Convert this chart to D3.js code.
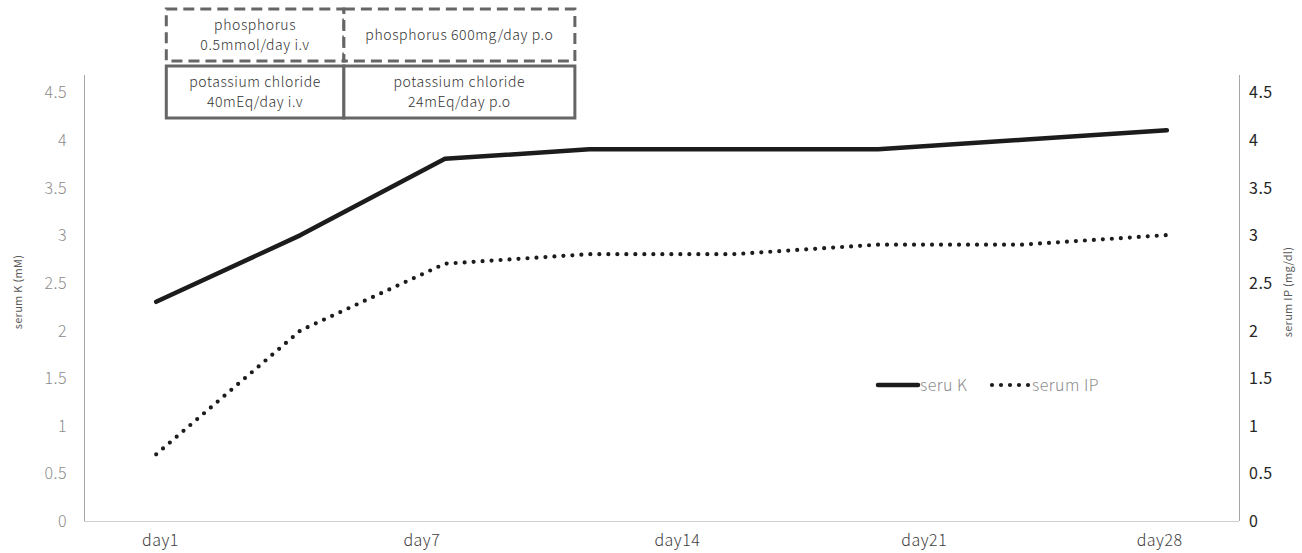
<!DOCTYPE html>
<html>
<head>
<meta charset="utf-8">
<script src="https://cdn.jsdelivr.net/npm/d3@7"></script>
<style>
  html, body { margin: 0; padding: 0; background: #fff; }
  svg { display: block; }
  text { font-family: "Noto Sans CJK JP", "Noto Sans", sans-serif; }
</style>
</head>
<body>
<svg id="chart" width="1302" height="553"></svg>
<script>
// Sampling points (eight measurements over the 28-day course)
const samples = ["s1", "s2", "s3", "s4", "s5", "s6", "s7", "s8"];
// Serum potassium (mM)
const serumK = [2.3, 3.0, 3.8, 3.9, 3.9, 3.9, 4.0, 4.1];
// Serum inorganic phosphorus (mg/dl)
const serumIP = [0.7, 2.0, 2.7, 2.8, 2.8, 2.9, 2.9, 3.0];
// Day labels along the bottom and where they sit on the sample axis
const dayLabels = ["day1", "day7", "day14", "day21", "day28"];
const dayLabelAt = [0.03, 1.84, 3.61, 5.32, 6.95];
// Value axis ticks (shared by both axes)
const yTicks = [0, 0.5, 1, 1.5, 2, 2.5, 3, 3.5, 4, 4.5];
// Treatment periods (start/end on the sample axis)
const phosphorusRx = [
  { lines: ["phosphorus", "0.5mmol/day i.v"], from: 0.07, to: 1.3 },
  { lines: ["phosphorus 600mg/day p.o"], from: 1.3, to: 2.9 }
];
const potassiumRx = [
  { lines: ["potassium chloride", "40mEq/day i.v"], from: 0.07, to: 1.3 },
  { lines: ["potassium chloride", "24mEq/day p.o"], from: 1.3, to: 2.9 }
];

const svg = d3.select("#chart");
const plotL = 84, plotR = 1239, plotT = 75, plotB = 521;

const x = d3.scalePoint().domain(samples).range([plotL, plotR]).padding(0.5);
const xi = d3.scaleLinear().domain([0, samples.length - 1])
  .range([x(samples[0]), x(samples[samples.length - 1])]);
const y = d3.scaleLinear().domain([0, 4.5]).range([plotB, plotB - 4.5 * 95.3]);

// Axis lines
svg.append("line").attr("x1", plotL + 0.5).attr("x2", plotL + 0.5)
  .attr("y1", plotT).attr("y2", plotB).attr("stroke", "#a6a6a6").attr("stroke-width", 1);
svg.append("line").attr("x1", plotR + 0.5).attr("x2", plotR + 0.5)
  .attr("y1", plotT).attr("y2", plotB).attr("stroke", "#a6a6a6").attr("stroke-width", 1);
svg.append("line").attr("x1", plotL).attr("x2", plotR)
  .attr("y1", plotB + 0.5).attr("y2", plotB + 0.5).attr("stroke", "#d0d0d0").attr("stroke-width", 1.2);

// Left tick labels
const yl = d3.axisLeft(y).tickValues(yTicks).tickSize(0).tickPadding(0).tickFormat(d3.format("~g"));
svg.append("g").attr("transform", `translate(${plotL - 17},0)`).call(yl)
  .call(g => g.select(".domain").remove())
  .call(g => g.selectAll("text").attr("fill", "#8c8c8c").attr("font-size", 16)
    .attr("font-weight", 300).attr("letter-spacing", 0.5).attr("dy", "0.35em"));

// Right tick labels
const yr = d3.axisRight(y).tickValues(yTicks).tickSize(0).tickPadding(0).tickFormat(d3.format("~g"));
svg.append("g").attr("transform", `translate(${plotR + 10},0)`).call(yr)
  .call(g => g.select(".domain").remove())
  .call(g => g.selectAll("text").attr("fill", "#262626").attr("font-size", 16)
    .attr("font-weight", 400).attr("letter-spacing", 0.5).attr("dy", "0.35em"));

// Axis titles
svg.append("text").attr("transform", "translate(22,292) rotate(-90)")
  .attr("text-anchor", "middle").attr("font-size", 11).attr("fill", "#595959")
  .attr("letter-spacing", 0.3).text("serum K (mM)");
svg.append("text").attr("transform", "translate(1292,292) rotate(-90)")
  .attr("text-anchor", "middle").attr("font-size", 11).attr("fill", "#595959")
  .attr("letter-spacing", 0.3).text("serum IP (mg/dl)");

// Day labels
svg.append("g").selectAll("text").data(dayLabels).join("text")
  .attr("x", (d, i) => xi(dayLabelAt[i]))
  .attr("y", 546)
  .attr("text-anchor", "middle")
  .attr("font-size", 16)
  .attr("font-weight", 300)
  .attr("letter-spacing", 0.5)
  .attr("fill", "#404040")
  .text(d => d);

// Series lines
const line = d3.line().x((d, i) => x(samples[i])).y(d => y(d));
svg.append("path").datum(serumK).attr("d", line)
  .attr("fill", "none").attr("stroke", "#1c1c1c").attr("stroke-width", 4.5)
  .attr("stroke-linejoin", "round").attr("stroke-linecap", "round");
svg.append("path").datum(serumIP).attr("d", line)
  .attr("fill", "none").attr("stroke", "#1c1c1c").attr("stroke-width", 4.2)
  .attr("stroke-dasharray", "0 9").attr("stroke-linecap", "round");

// Legend
const legend = svg.append("g").attr("transform", "translate(878,385)");
legend.append("line").attr("x1", 0).attr("x2", 40).attr("y1", 0).attr("y2", 0)
  .attr("stroke", "#1c1c1c").attr("stroke-width", 4.5).attr("stroke-linecap", "round");
legend.append("text").attr("x", 42).attr("y", 6).attr("font-size", 16)
  .attr("font-weight", 300).attr("letter-spacing", 0.5).attr("fill", "#8c8c8c").text("seru K");
legend.append("line").attr("x1", 114).attr("x2", 152).attr("y1", 0).attr("y2", 0)
  .attr("stroke", "#1c1c1c").attr("stroke-width", 4.2)
  .attr("stroke-dasharray", "0 9").attr("stroke-linecap", "round");
legend.append("text").attr("x", 154).attr("y", 6).attr("font-size", 16)
  .attr("font-weight", 300).attr("letter-spacing", 0.5).attr("fill", "#8c8c8c").text("serum IP");

// Treatment boxes
function drawRx(rows, y0, y1, dashed) {
  const g = svg.append("g");
  rows.forEach(r => {
    const x0 = xi(r.from), x1 = xi(r.to);
    g.append("rect").attr("x", x0).attr("y", y0).attr("width", x1 - x0).attr("height", y1 - y0)
      .attr("fill", "#fff").attr("stroke", "#666").attr("stroke-width", 3)
      .attr("stroke-dasharray", dashed ? "11 6" : null);
    const cy = (y0 + y1) / 2;
    const lh = 20;
    r.lines.forEach((t, k) => {
      g.append("text").attr("x", (x0 + x1) / 2)
        .attr("y", cy + (k - (r.lines.length - 1) / 2) * lh)
        .attr("dy", "0.35em").attr("text-anchor", "middle")
        .attr("font-size", 14).attr("letter-spacing", 0.6)
        .attr("font-weight", 300)
        .attr("fill", "#333").text(t);
    });
  });
}
drawRx(phosphorusRx, 9, 61, true);
drawRx(potassiumRx, 66, 118, false);
</script>
</body>
</html>
